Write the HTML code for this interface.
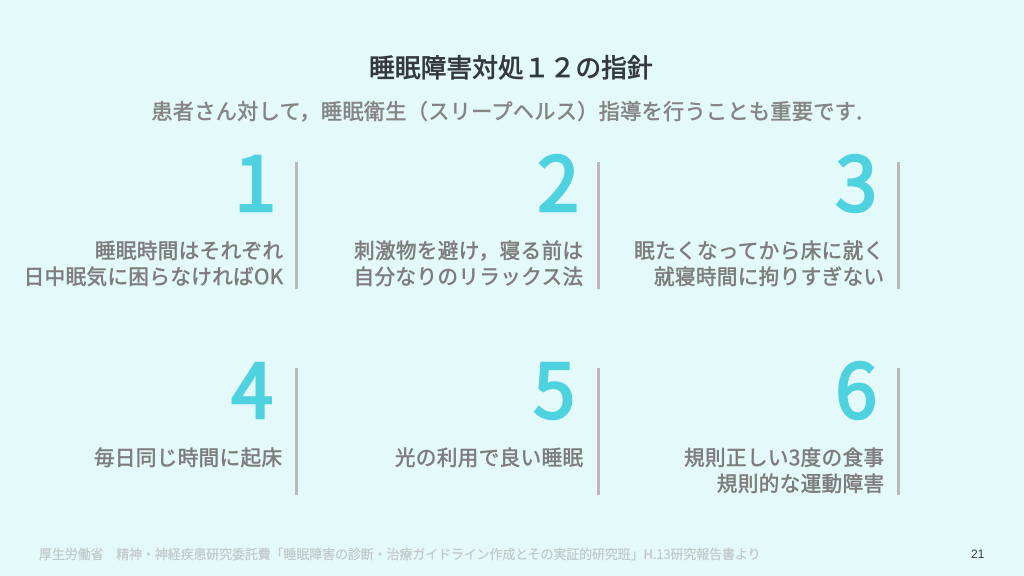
<!DOCTYPE html>
<html lang="ja"><head><meta charset="utf-8">
<style>
html,body{margin:0;padding:0}
body{width:1024px;height:576px;background:#e4f9f9;position:relative;overflow:hidden;font-family:"Liberation Sans","Noto Sans CJK JP",sans-serif}
.a{position:absolute;white-space:nowrap}
.f{font-family:"Noto Sans CJK JP",sans-serif}
.title{left:0;width:1022px;text-align:center;top:49px;font-size:25.6px;line-height:36px;font-weight:normal;-webkit-text-stroke:.8px #333b3f;color:#333b3f;letter-spacing:.2px;font-family:"Noto Sans CJK JP",sans-serif}
.sub{left:0;width:1014px;text-align:center;top:96px;font-size:21px;line-height:30px;font-weight:normal;-webkit-text-stroke:.6px #858585;color:#858585;letter-spacing:.46px}
.n{font-size:75px;line-height:80px;font-weight:normal;-webkit-text-stroke:2.6px #4fd2e0;color:#4fd2e0;text-align:right;font-family:"Noto Sans CJK JP",sans-serif}
.t{font-size:20.5px;line-height:26px;font-weight:normal;-webkit-text-stroke:.6px #7d7d7d;color:#7d7d7d;text-align:right;letter-spacing:.45px;font-family:"Noto Sans CJK JP",sans-serif}
.l{width:3px;height:127px;background:#b9b9b9}
.foot{left:39px;top:546px;font-size:13px;line-height:16px;color:#c0c8c8;-webkit-text-stroke:.2px #c0c8c8;letter-spacing:-.13px;font-family:"Noto Sans CJK JP",sans-serif}
.pg{left:971px;top:546px;font-size:12px;line-height:16px;color:#333b3f}
</style></head><body>
<div class="a title">睡眠障害対処１２の指針</div>
<div class="a sub f">患者さん対して，睡眠衛生（スリープヘルス）指導を行うことも重要です.</div>

<div class="a n" style="right:748px;top:139px">1</div>
<div class="a n" style="right:445px;top:139px">2</div>
<div class="a n" style="right:147px;top:139px">3</div>
<div class="a n" style="right:751px;top:346px">4</div>
<div class="a n" style="right:449px;top:346px">5</div>
<div class="a n" style="right:147px;top:346px">6</div>

<div class="a l" style="left:295px;top:162px"></div>
<div class="a l" style="left:597px;top:162px"></div>
<div class="a l" style="left:897px;top:162px"></div>
<div class="a l" style="left:295px;top:368px"></div>
<div class="a l" style="left:597px;top:368px"></div>
<div class="a l" style="left:897px;top:368px"></div>

<div class="a t" style="right:740.5px;top:236px">睡眠時間はそれぞれ<br>日中眠気に困らなければOK</div>
<div class="a t" style="right:440.5px;top:236px">刺激物を避け，寝る前は<br>自分なりのリラックス法</div>
<div class="a t" style="right:139.5px;top:236px">眠たくなってから床に就く<br>就寝時間に拘りすぎない</div>
<div class="a t" style="right:741.5px;top:443px">毎日同じ時間に起床</div>
<div class="a t" style="right:440.5px;top:443px">光の利用で良い睡眠</div>
<div class="a t" style="right:139.5px;top:443px">規則正しい3度の食事<br>規則的な運動障害</div>

<div class="a foot">厚生労働省　精神・神経疾患研究委託費「睡眠障害の診断・治療ガイドライン作成とその実証的研究班」H.13研究報告書より</div>
<div class="a pg">21</div>
</body></html>
